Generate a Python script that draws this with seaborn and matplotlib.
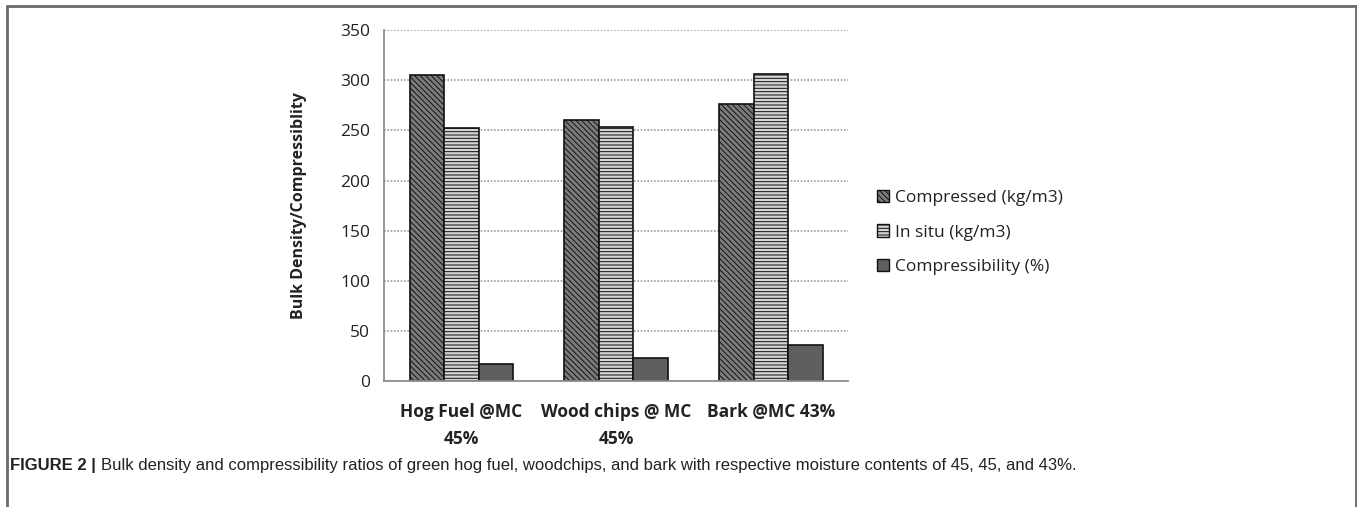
import matplotlib
matplotlib.use("Agg")
import matplotlib.pyplot as plt
from matplotlib.patches import Patch
from matplotlib.lines import Line2D
import seaborn as sns
import pandas as pd

# Materials and measured values
categories = ["Hog Fuel @MC\n45%", "Wood chips @ MC\n45%", "Bark @MC 43%"]
series = ["Compressed (kg/m3)", "In situ (kg/m3)", "Compressibility (%)"]
compressed = [305, 260, 276]
in_situ = [252, 253, 306]
compressibility = [17, 23, 36]
y_ticks = [0, 50, 100, 150, 200, 250, 300, 350]

rows = []
for s, vals in zip(series, [compressed, in_situ, compressibility]):
    for c, v in zip(categories, vals):
        rows.append({"material": c, "series": s, "value": v})
df = pd.DataFrame(rows)

sns.set_theme(style="white")
plt.rcParams["font.family"] = ["Open Sans", "DejaVu Sans"]
plt.rcParams["hatch.linewidth"] = 0.7

fig = plt.figure(figsize=(13.57, 5.07), dpi=100)
ax = fig.add_axes([0.283, 0.2485, 0.342, 0.692])

fills = ["#7c7c7c", "#d4d4d4", "#5f5f5f"]
hatches = ["\\\\\\\\\\\\", "-----", ""]

sns.barplot(data=df, x="material", y="value", hue="series", hue_order=series,
            order=categories, palette=fills, width=0.67, gap=0,
            edgecolor="#111111", linewidth=1.2, saturation=1, ax=ax, legend=False)

for cont, h in zip(ax.containers, hatches):
    for bar in cont:
        bar.set_hatch(h)

ax.set_ylim(0, 350)
ax.set_yticks(y_ticks)
ax.set_xlim(-0.5, 2.5)
ax.yaxis.grid(True, linestyle=(0, (1, 1)), color="#9a9a9a", linewidth=1.2)
ax.set_axisbelow(True)
for side in ["top", "right"]:
    ax.spines[side].set_visible(False)
for side in ["left", "bottom"]:
    ax.spines[side].set_color("#8c8c8c")
    ax.spines[side].set_linewidth(1.3)
ax.tick_params(axis="both", length=0, labelsize=12.5, colors="#222222", pad=10)
ax.tick_params(axis="x", pad=16)
for lab in ax.get_xticklabels():
    lab.set_fontweight("bold")
    lab.set_multialignment("center")
    lab.set_linespacing(1.6)
ax.set_xlabel("")
ax.set_ylabel("Bulk Density/Compressiblity", fontsize=11.5, fontweight="bold",
              color="#222222", labelpad=24)

handles = [Patch(facecolor=f, edgecolor="#111111", hatch=h, linewidth=1.0)
           for f, h in zip(fills, hatches)]
fig.legend(handles, series, loc="upper left", bbox_to_anchor=(0.635, 0.656),
           frameon=False, fontsize=12.5, handlelength=0.7, handleheight=0.7,
           handletextpad=0.3, labelspacing=1.05, labelcolor="#222222")

# outer frame of the figure panel
frame_kw = dict(color="#6a6a6a", linewidth=2.0, transform=fig.transFigure)
fig.add_artist(Line2D([0.005, 0.999], [0.988, 0.988], **frame_kw))
fig.add_artist(Line2D([0.005, 0.005], [0.0, 0.988], **frame_kw))
fig.add_artist(Line2D([0.999, 0.999], [0.0, 0.988], **frame_kw))

# caption
cap_family = ["Liberation Sans Narrow", "Liberation Sans", "DejaVu Sans"]
t1 = fig.text(0.0075, 0.072, "FIGURE 2 |", fontsize=12, fontweight="bold",
              family=cap_family, color="#222222", va="baseline")
fig.canvas.draw()
bb = t1.get_window_extent()
x_next = (bb.x1 + 5) / fig.bbox.width
fig.text(x_next, 0.072,
         "Bulk density and compressibility ratios of green hog fuel, woodchips, "
         "and bark with respective moisture contents of 45, 45, and 43%.",
         fontsize=12, family=cap_family, color="#222222", va="baseline")

fig.savefig("out.png", dpi=100)
